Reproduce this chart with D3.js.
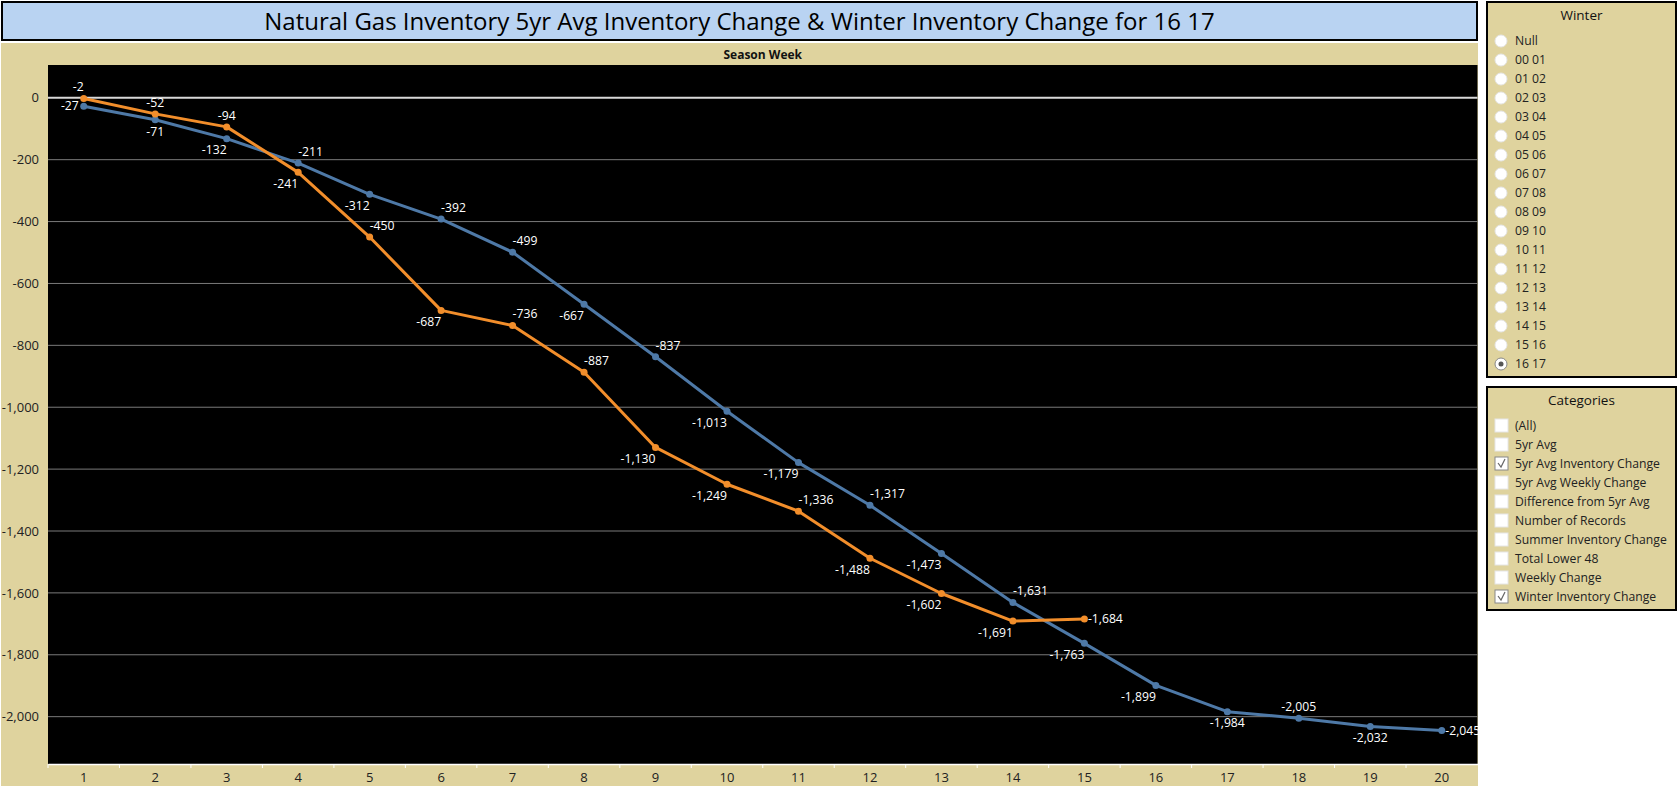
<!DOCTYPE html>
<html><head><meta charset="utf-8">
<script src="https://cdn.jsdelivr.net/npm/d3@7"></script>
<style>body{margin:0;background:#fff;} text{font-family:"Open Sans",sans-serif;}</style>
</head><body>
<svg id="c" width="1679" height="787"></svg>
<script>
const weeks = d3.range(1, 21).map(String);
const avgChange = [-27,-71,-132,-211,-312,-392,-499,-667,-837,-1013,-1179,-1317,-1473,-1631,-1763,-1899,-1984,-2005,-2032,-2045];
const winterChange = [-2,-52,-94,-241,-450,-687,-736,-887,-1130,-1249,-1336,-1488,-1602,-1691,-1684];
const avgLabelPos = ["l","b","bl","ar","bl","ar","ar","bl","ar","bl","bl","ar","bl","ar","bl","bl","b","a","b","r"];
const winterLabelPos = ["al","a","a","bl","ar","bl","ar","ar","bl","bl","ar","bl","bl","bl","r"];
const yTicks = d3.range(-2000, 1, 200);
const winterItems = ["Null","00 01","01 02","02 03","03 04","04 05","05 06","06 07","07 08","08 09","09 10","10 11","11 12","12 13","13 14","14 15","15 16","16 17"];
const selectedWinter = "16 17";
const categoryItems = ["(All)","5yr Avg","5yr Avg Inventory Change","5yr Avg Weekly Change","Difference from 5yr Avg","Number of Records","Summer Inventory Change","Total Lower 48","Weekly Change","Winter Inventory Change"];
const checkedCategories = ["5yr Avg Inventory Change","Winter Inventory Change"];
const titleText = "Natural Gas Inventory 5yr Avg Inventory Change & Winter Inventory Change for 16 17";

const svg = d3.select("#c");
const TAN = "#dfd39e", BLUE = "#4e79a7", ORANGE = "#f28e2b";
const fmt = d3.formatLocale({decimal:".", thousands:",", grouping:[3], currency:["",""], minus:"-"}).format(",");

// title
svg.append("rect").attr("x",2).attr("y",2).attr("width",1475).attr("height",38)
  .attr("fill","#b9d3f2").attr("stroke","#000").attr("stroke-width",2);
svg.append("text").attr("x",739.5).attr("y",29.5).attr("text-anchor","middle")
  .attr("font-size",24).attr("fill","#000").text(titleText);

// chart panel
svg.append("rect").attr("x",1).attr("y",43).attr("width",1477).attr("height",743).attr("fill",TAN);
const L = 48, R = 1477.5, T = 65, B = 764;
svg.append("rect").attr("x",L).attr("y",T).attr("width",R-L).attr("height",B-T).attr("fill","#000");
svg.append("text").attr("x",(L+R)/2).attr("y",59).attr("text-anchor","middle")
  .attr("font-size",12).attr("font-weight","bold").attr("fill","#111").text("Season Week");

const x = d3.scaleBand().domain(weeks).range([L, R]);
const y = d3.scaleLinear().domain([-2153, 106]).range([B, T]);
const cx = i => x(weeks[i]) + x.bandwidth()/2;

// gridlines
svg.append("g").selectAll("line").data(yTicks).join("line")
  .attr("x1",L).attr("x2",R).attr("y1",d=>y(d)).attr("y2",d=>y(d))
  .attr("stroke",d=>d===0?"#d8d8d8":"#7a7a7a").attr("stroke-width",d=>d===0?2:1);

// y axis
const yAxis = d3.axisLeft(y).tickValues(yTicks).tickSize(0).tickPadding(9).tickFormat(fmt);
const gy = svg.append("g").attr("transform",`translate(${L},0)`).call(yAxis);
gy.select(".domain").remove();
gy.selectAll("text").attr("font-size",13).attr("fill","#222").style("font-family","'Open Sans',sans-serif");

// x axis
const xAxis = d3.axisBottom(x).tickSize(0).tickPadding(9);
const gx = svg.append("g").attr("transform",`translate(0,${B})`).call(xAxis);
gx.select(".domain").attr("stroke","#fff").attr("stroke-width",1.5);
gx.selectAll("text").attr("font-size",13).attr("fill","#222").style("font-family","'Open Sans',sans-serif");
svg.append("g").selectAll("line").data(weeks).join("line")
  .attr("x1",d=>x(d)).attr("x2",d=>x(d)).attr("y1",B).attr("y2",B+4)
  .attr("stroke","#fff").attr("stroke-width",1);

// series
function drawSeries(vals, color, pos){
  const line = d3.line().x((d,i)=>cx(i)).y(d=>y(d));
  svg.append("path").datum(vals).attr("d",line).attr("fill","none")
    .attr("stroke",color).attr("stroke-width",3).attr("stroke-linejoin","round");
  svg.append("g").selectAll("circle").data(vals).join("circle")
    .attr("cx",(d,i)=>cx(i)).attr("cy",d=>y(d)).attr("r",3.5).attr("fill",color);
  svg.append("g").selectAll("text").data(vals).join("text")
    .attr("font-size",12.2).attr("fill","#fff")
    .attr("x",(d,i)=>{const p=pos[i]; const px=cx(i);
      if(p==="l") return px-5; if(p==="r") return px+3.5; return px;})
    .attr("y",(d,i)=>{const p=pos[i]; const py=y(d);
      if(p.startsWith("a")) return py-11.5; if(p.startsWith("b")) return py+11.5; return py;})
    .attr("dy","0.35em")
    .attr("text-anchor",(d,i)=>{const p=pos[i];
      if(p==="l"||p==="al"||p==="bl") return "end"; if(p==="r"||p==="ar"||p==="br") return "start"; return "middle";})
    .text(d=>fmt(d));
}
drawSeries(avgChange, BLUE, avgLabelPos);
drawSeries(winterChange, ORANGE, winterLabelPos);

// Winter filter panel
svg.append("rect").attr("x",1487).attr("y",2).attr("width",189).attr("height",375)
  .attr("fill",TAN).attr("stroke","#000").attr("stroke-width",2);
svg.append("text").attr("x",1581.5).attr("y",19.5).attr("text-anchor","middle")
  .attr("font-size",13.5).attr("fill","#111").text("Winter");
const wg = svg.append("g").selectAll("g").data(winterItems).join("g")
  .attr("transform",(d,i)=>`translate(0,${41+i*19})`);
wg.append("circle").attr("cx",1501).attr("cy",0).attr("r",6)
  .attr("fill","#fff").attr("stroke",d=>d===selectedWinter?"#888":"#e6e6e6").attr("stroke-width",1);
wg.filter(d=>d===selectedWinter).append("circle").attr("cx",1501).attr("cy",0).attr("r",2.5).attr("fill","#555");
wg.append("text").attr("x",1515).attr("y",0).attr("dy","0.35em").attr("font-size",12.2).attr("fill","#222").text(d=>d);

// Categories filter panel
svg.append("rect").attr("x",1487).attr("y",387).attr("width",189).attr("height",223)
  .attr("fill",TAN).attr("stroke","#000").attr("stroke-width",2);
svg.append("text").attr("x",1581.5).attr("y",405).attr("text-anchor","middle")
  .attr("font-size",13.5).attr("fill","#111").text("Categories");
const cg = svg.append("g").selectAll("g").data(categoryItems).join("g")
  .attr("transform",(d,i)=>`translate(0,${426+i*19})`);
cg.append("rect").attr("x",1495).attr("y",-7).attr("width",13).attr("height",13)
  .attr("fill","#fff").attr("stroke",d=>checkedCategories.includes(d)?"#888":"#e6e6e6");
cg.filter(d=>checkedCategories.includes(d)).append("path")
  .attr("d","M1498,-1 L1501,3 L1505,-5").attr("fill","none").attr("stroke","#666").attr("stroke-width",1.2);
cg.append("text").attr("x",1515).attr("y",0).attr("dy","0.35em").attr("font-size",12.2).attr("fill","#222").text(d=>d);
</script>
</body></html>
